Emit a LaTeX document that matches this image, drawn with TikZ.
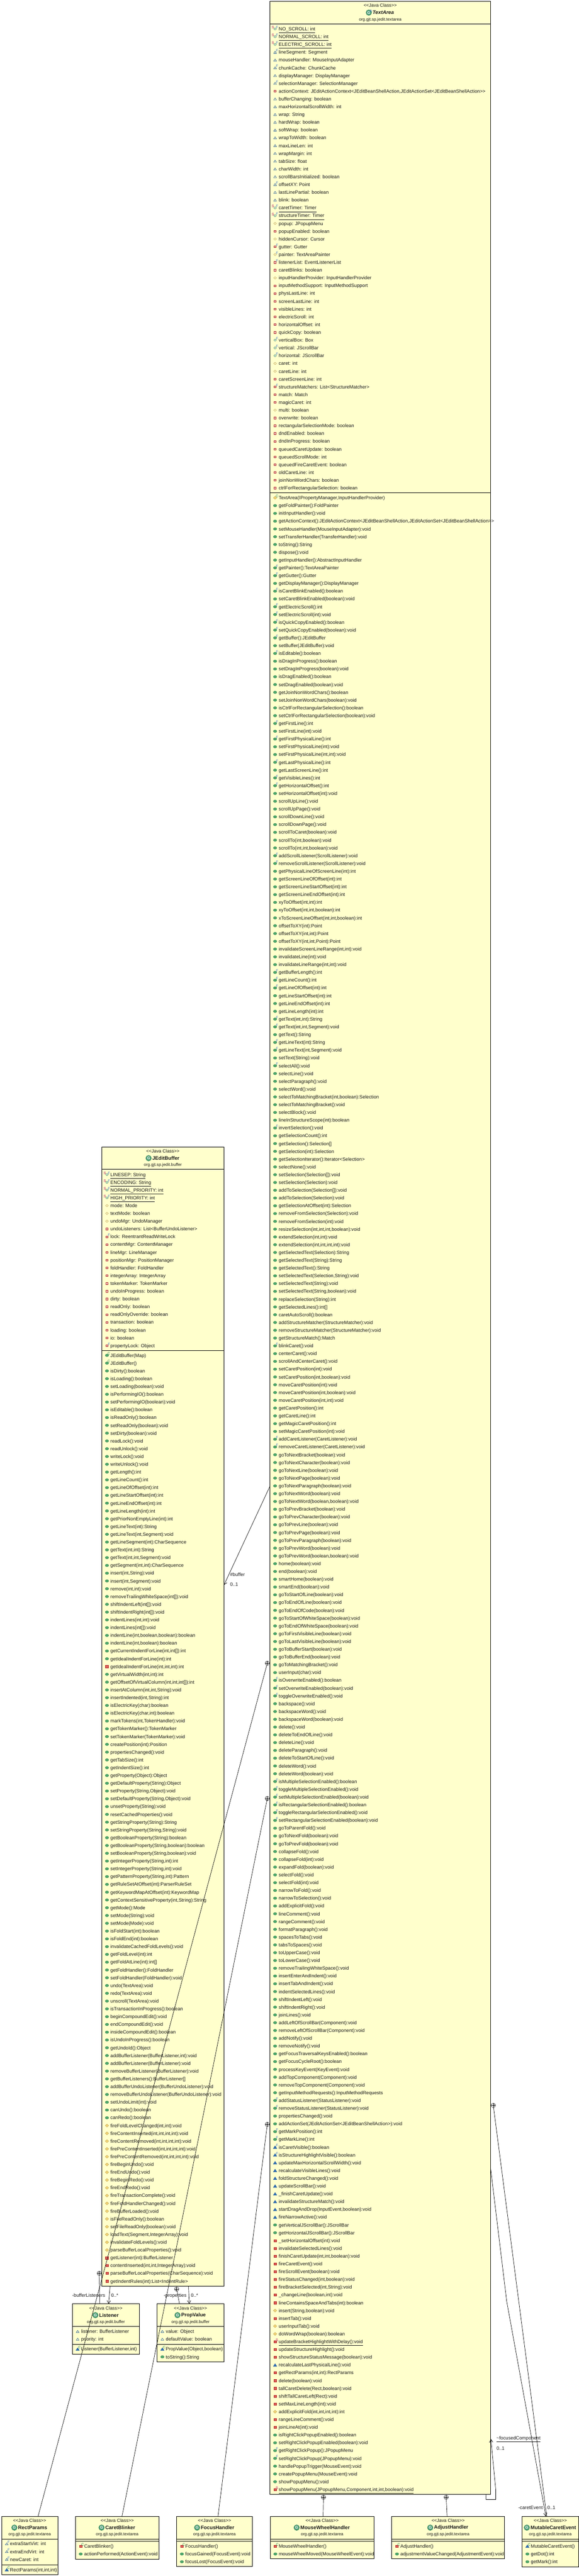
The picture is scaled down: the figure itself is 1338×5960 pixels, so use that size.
\documentclass[tikz,border=0pt]{standalone}
\usepackage{fontspec}
\setmainfont{Liberation Sans}
\usetikzlibrary{arrows.meta,calc}
\definecolor{boxfill}{HTML}{FFFFCC}
\definecolor{txt}{HTML}{1A1A1A}
\definecolor{gF}{HTML}{4FAA6C}
\definecolor{gD}{HTML}{2F7F50}
\definecolor{rF}{HTML}{E0605A}
\definecolor{rD}{HTML}{B02828}
\definecolor{bF}{HTML}{2F6FB5}
\definecolor{bD}{HTML}{1F5595}
\definecolor{yF}{HTML}{F2D676}
\definecolor{yD}{HTML}{BF9F4F}
\definecolor{cF}{HTML}{3A6FC8}
\definecolor{cC}{HTML}{1F7F4F}
\definecolor{cS}{HTML}{B0105A}
\definecolor{hF}{HTML}{4E9E78}
\newcommand\rowfont{\fontsize{11}{13}\selectfont}
\tikzset{
  x=1pt,y=-1pt,
  classbox/.style={draw=black,fill=boxfill,line width=1.1pt,inner sep=0pt,outer sep=0pt},
  divider/.style={draw=black,line width=.7pt},
  rowtext/.style={anchor=base west,inner sep=0pt,outer sep=0pt,font=\rowfont,text=txt},
  lbl/.style={anchor=base west,inner sep=0pt,outer sep=0pt,font=\rowfont,text=txt},
  stereo/.style={anchor=center,inner sep=0pt,font=\fontsize{10.6}{12}\selectfont,text=txt},
  pkgname/.style={anchor=center,inner sep=0pt,font=\fontsize{9.7}{11}\selectfont,text=txt},
  clsname/.style={anchor=center,inner sep=0pt,font=\fontsize{11.6}{14}\selectfont\bfseries,text=txt},
  hdicon/.style={circle,draw=gD,fill=hF,line width=.6pt,inner sep=0pt,minimum size=13pt,text=white,font=\fontsize{9}{9}\selectfont\bfseries},
  mk/.style={inner sep=0pt,outer sep=0pt,font=\fontsize{8}{8}\selectfont},
  conn/.style={draw=black,line width=.8pt},
  assoc/.style={draw=black,line width=.8pt,-{Straight Barb[length=7pt,width=8pt]}},
  nest/.style={circle,draw=black,fill=white,line width=.6pt,minimum size=10pt,inner sep=0pt,outer sep=0pt,
    path picture={\draw[line width=.5pt] (path picture bounding box.north)--(path picture bounding box.south)
      (path picture bounding box.west)--(path picture bounding box.east);}},
}
\newdimen\ry
\newcount\rn
% icon parts
\newcommand\mkFF{\node[mk,text=cF] (mf\the\rn) at (4.6,-3.6) {F};}
\newcommand\mkCC{\node[mk,text=cC] (mc\the\rn) at (4.4,-3.8) {C};}
\newcommand\mkSS{\node[mk,text=cS] (ms\the\rn) at (-5,-3.4) {S};}
\newcommand\shP{\path[draw=gD,fill=gF,line width=.5pt] (0,0) ellipse [x radius=4,y radius=3];}
\newcommand\shH{\path[draw=gD,fill=gF!20,line width=.6pt] (0,0) ellipse [x radius=2.7,y radius=2.3];}
\newcommand\shQ{\path[draw=rD,fill=rF,line width=.6pt] (-3,-2.5) rectangle (3,2.5);}
\newcommand\shQh{\path[draw=rD,fill=rF!30,line width=.7pt] (-2.6,-2) rectangle (2.6,2);}
\newcommand\shD{\path[draw=yD,fill=yF,line width=.5pt] (-4,0)--(0,-3.5)--(4,0)--(0,3.5)--cycle;}
\newcommand\shDh{\path[draw=yD,fill=boxfill,line width=.6pt] (-3.2,0)--(0,-2.7)--(3.2,0)--(0,2.7)--cycle;}
\newcommand\shK{\path[draw=bD,fill=bF,line width=.4pt] (-4.2,3.2)--(0,-3.2)--(4.2,3.2)--cycle;}
\newcommand\shKh{\path[draw=bD,fill=boxfill,line width=.7pt] (-3.2,2.4)--(0,-2.4)--(3.2,2.4)--cycle;}
% icon codes
\expandafter\def\csname icp\endcsname{\shP}
\expandafter\def\csname icpF\endcsname{\shP\mkFF}
\expandafter\def\csname icpC\endcsname{\shP\mkCC}
\expandafter\def\csname icq\endcsname{\shQ}
\expandafter\def\csname icqB\endcsname{\path[fill=rF,draw=rD,line width=.5pt] (-3.5,-3) rectangle (3.5,3);}
\expandafter\def\csname icqC\endcsname{\shQ\mkCC}
\expandafter\def\csname icqS\endcsname{\shQ\node[mk,text=cS] (ms\the\rn) at (4.2,-3.8) {S};}
\expandafter\def\csname icd\endcsname{\shD}
\expandafter\def\csname icdC\endcsname{\shD\mkCC}
\expandafter\def\csname ick\endcsname{\shK}
\expandafter\def\csname ickF\endcsname{\shK\mkFF}
\expandafter\def\csname ickC\endcsname{\shK\mkCC}
\expandafter\def\csname icfSF\endcsname{\shH\mkFF\mkSS}
\expandafter\def\csname icfk\endcsname{\shKh}
\expandafter\def\csname icfkF\endcsname{\shKh\mkFF}
\expandafter\def\csname icfd\endcsname{\shDh}
\expandafter\def\csname icfdF\endcsname{\shDh\mkFF}
\expandafter\def\csname icfq\endcsname{\shQh}
\expandafter\def\csname icfqF\endcsname{\shQh\mkFF}
\expandafter\def\csname icfpF\endcsname{\shH\mkFF}
\newcommand\setrows[3]{\def\ix{#1}\def\tx{#2}\global\ry=#3pt\relax}
\newcommand\rw[2]{%
  \global\advance\rn by 1
  \edef\cy{-\the\ry}\edef\by{-\the\dimexpr\ry+4pt\relax}%
  \begin{scope}[shift={(\ix pt,\cy)}]\csname ic#1\endcsname\end{scope}
  \node[rowtext] (r\the\rn) at (\tx pt,\by) {#2};
  \global\advance\ry by 18pt\relax}
\newcommand\Rp[1]{\rw{p}{#1}}
\newcommand\Rf[1]{\rw{pF}{#1}}
\newcommand\Rq[1]{\rw{q}{#1}}
\newcommand\Rd[1]{\rw{d}{#1}}
\newcommand\Rk[1]{\rw{k}{#1}}
\newcommand\ulx[1]{\setbox0\hbox{#1}\rlap{\rule[-5pt]{\wd0}{.6pt}}\box0}
% name left top right bottom
\newcommand\clsbox[5]{%
  \pgfmathsetmacro\bcx{(#2+#4)/2}\pgfmathsetmacro\bcy{(#3+#5)/2}%
  \pgfmathsetmacro\bw{#4-#2}\pgfmathsetmacro\bh{#5-#3}%
  \node[classbox,minimum width=\bw pt,minimum height=\bh pt] (#1) at (\bcx,\bcy) {};}
% name cx top classname package
\newcommand\clshead[5]{%
  \pgfmathsetmacro\ya{#2+9.5}\pgfmathsetmacro\yb{#2+26}\pgfmathsetmacro\yc{#2+42.3}\pgfmathsetmacro\xn{#1+7}%
  \node[stereo] (#3-st) at (#1,\ya) {<{}<Java Class>{}>};
  \node[clsname] (#3-nm) at (\xn,\yb) {#4};
  \node[hdicon] (#3-ic) at ($(#3-nm.west)+(-8.5,0)$) {G};
  \node[pkgname] (#3-pk) at (#1,\yc) {#5};}
\begin{document}
\begin{tikzpicture}
\useasboundingbox (0,0) rectangle (1338,5960);
\fill[white] (0,0) rectangle (1338,5960);

% ---------- TextArea
\clsbox{textarea}{624}{3.2}{1134}{5771.5}
\draw[divider] (624,55.5)--(1134,55.5);
\draw[divider] (624,1140.3)--(1134,1140.3);
\clshead{879}{3.2}{ta}{\itshape TextArea}{org.gjt.sp.jedit.textarea}
\node[mk,text=cF] (ta-ab) at ($(ta-ic.north east)+(0,1)$) {A};
\setrows{636}{644.5}{67}
\rw{fSF}{\ulx{NO\_SCROLL: int}}
\rw{fSF}{\ulx{NORMAL\_SCROLL: int}}
\rw{fSF}{\ulx{ELECTRIC\_SCROLL: int}}
\rw{fkF}{lineSegment: Segment}
\rw{fk}{mouseHandler: MouseInputAdapter}
\rw{fkF}{chunkCache: ChunkCache}
\rw{fk}{displayManager: DisplayManager}
\rw{fkF}{selectionManager: SelectionManager}
\rw{fq}{actionContext: JEditActionContext<JEditBeanShellAction,JEditActionSet<JEditBeanShellAction>{}>}
\rw{fk}{bufferChanging: boolean}
\rw{fk}{maxHorizontalScrollWidth: int}
\rw{fk}{wrap: String}
\rw{fk}{hardWrap: boolean}
\rw{fk}{softWrap: boolean}
\rw{fk}{wrapToWidth: boolean}
\rw{fk}{maxLineLen: int}
\rw{fk}{wrapMargin: int}
\rw{fk}{tabSize: float}
\rw{fk}{charWidth: int}
\rw{fk}{scrollBarsInitialized: boolean}
\rw{fkF}{offsetXY: Point}
\rw{fk}{lastLinePartial: boolean}
\rw{fk}{blink: boolean}
\rw{fSF}{\ulx{caretTimer: Timer}}
\rw{fSF}{\ulx{structureTimer: Timer}}
\rw{fd}{popup: JPopupMenu}
\rw{fq}{popupEnabled: boolean}
\rw{fd}{hiddenCursor: Cursor}
\rw{fqF}{gutter: Gutter}
\rw{fdF}{painter: TextAreaPainter}
\rw{fqF}{listenerList: EventListenerList}
\rw{fq}{caretBlinks: boolean}
\rw{fd}{inputHandlerProvider: InputHandlerProvider}
\rw{fq}{inputMethodSupport: InputMethodSupport}
\rw{fq}{physLastLine: int}
\rw{fq}{screenLastLine: int}
\rw{fq}{visibleLines: int}
\rw{fq}{electricScroll: int}
\rw{fq}{horizontalOffset: int}
\rw{fq}{quickCopy: boolean}
\rw{fpF}{verticalBox: Box}
\rw{fpF}{vertical: JScrollBar}
\rw{fpF}{horizontal: JScrollBar}
\rw{fd}{caret: int}
\rw{fd}{caretLine: int}
\rw{fq}{caretScreenLine: int}
\rw{fqF}{structureMatchers: List<StructureMatcher>}
\rw{fq}{match: Match}
\rw{fq}{magicCaret: int}
\rw{fd}{multi: boolean}
\rw{fq}{overwrite: boolean}
\rw{fq}{rectangularSelectionMode: boolean}
\rw{fq}{dndEnabled: boolean}
\rw{fq}{dndInProgress: boolean}
\rw{fq}{queuedCaretUpdate: boolean}
\rw{fq}{queuedScrollMode: int}
\rw{fq}{queuedFireCaretEvent: boolean}
\rw{fq}{oldCaretLine: int}
\rw{fq}{joinNonWordChars: boolean}
\rw{fq}{ctrlForRectangularSelection: boolean}
\setrows{636}{644.5}{1151.8}
\rw{dC}{TextArea(IPropertyManager,InputHandlerProvider)}
\Rp{getFoldPainter():FoldPainter}
\Rp{initInputHandler():void}
\Rp{getActionContext():JEditActionContext<JEditBeanShellAction,JEditActionSet<JEditBeanShellAction>{}>}
\Rp{setMouseHandler(MouseInputAdapter):void}
\Rp{setTransferHandler(TransferHandler):void}
\Rp{toString():String}
\Rp{dispose():void}
\Rp{getInputHandler():AbstractInputHandler}
\Rf{getPainter():TextAreaPainter}
\Rf{getGutter():Gutter}
\Rp{getDisplayManager():DisplayManager}
\Rf{isCaretBlinkEnabled():boolean}
\Rp{setCaretBlinkEnabled(boolean):void}
\Rf{getElectricScroll():int}
\Rf{setElectricScroll(int):void}
\Rf{isQuickCopyEnabled():boolean}
\Rf{setQuickCopyEnabled(boolean):void}
\Rf{getBuffer():JEditBuffer}
\Rp{setBuffer(JEditBuffer):void}
\Rf{isEditable():boolean}
\Rp{isDragInProgress():boolean}
\Rp{setDragInProgress(boolean):void}
\Rp{isDragEnabled():boolean}
\Rp{setDragEnabled(boolean):void}
\Rp{getJoinNonWordChars():boolean}
\Rp{setJoinNonWordChars(boolean):void}
\Rp{isCtrlForRectangularSelection():boolean}
\Rp{setCtrlForRectangularSelection(boolean):void}
\Rf{getFirstLine():int}
\Rp{setFirstLine(int):void}
\Rf{getFirstPhysicalLine():int}
\Rp{setFirstPhysicalLine(int):void}
\Rp{setFirstPhysicalLine(int,int):void}
\Rf{getLastPhysicalLine():int}
\Rp{getLastScreenLine():int}
\Rf{getVisibleLines():int}
\Rf{getHorizontalOffset():int}
\Rp{setHorizontalOffset(int):void}
\Rp{scrollUpLine():void}
\Rp{scrollUpPage():void}
\Rp{scrollDownLine():void}
\Rp{scrollDownPage():void}
\Rp{scrollToCaret(boolean):void}
\Rp{scrollTo(int,boolean):void}
\Rp{scrollTo(int,int,boolean):void}
\Rf{addScrollListener(ScrollListener):void}
\Rf{removeScrollListener(ScrollListener):void}
\Rp{getPhysicalLineOfScreenLine(int):int}
\Rp{getScreenLineOfOffset(int):int}
\Rp{getScreenLineStartOffset(int):int}
\Rp{getScreenLineEndOffset(int):int}
\Rp{xyToOffset(int,int):int}
\Rp{xyToOffset(int,int,boolean):int}
\Rp{xToScreenLineOffset(int,int,boolean):int}
\Rp{offsetToXY(int):Point}
\Rp{offsetToXY(int,int):Point}
\Rp{offsetToXY(int,int,Point):Point}
\Rp{invalidateScreenLineRange(int,int):void}
\Rp{invalidateLine(int):void}
\Rp{invalidateLineRange(int,int):void}
\Rf{getBufferLength():int}
\Rf{getLineCount():int}
\Rf{getLineOfOffset(int):int}
\Rp{getLineStartOffset(int):int}
\Rp{getLineEndOffset(int):int}
\Rp{getLineLength(int):int}
\Rf{getText(int,int):String}
\Rf{getText(int,int,Segment):void}
\Rp{getText():String}
\Rf{getLineText(int):String}
\Rf{getLineText(int,Segment):void}
\Rp{setText(String):void}
\Rf{selectAll():void}
\Rp{selectLine():void}
\Rp{selectParagraph():void}
\Rp{selectWord():void}
\Rp{selectToMatchingBracket(int,boolean):Selection}
\Rp{selectToMatchingBracket():void}
\Rp{selectBlock():void}
\Rp{lineInStructureScope(int):boolean}
\Rf{invertSelection():void}
\Rp{getSelectionCount():int}
\Rp{getSelection():Selection[]}
\Rp{getSelection(int):Selection}
\Rp{getSelectionIterator():Iterator<Selection>}
\Rp{selectNone():void}
\Rp{setSelection(Selection[]):void}
\Rp{setSelection(Selection):void}
\Rp{addToSelection(Selection[]):void}
\Rp{addToSelection(Selection):void}
\Rp{getSelectionAtOffset(int):Selection}
\Rp{removeFromSelection(Selection):void}
\Rp{removeFromSelection(int):void}
\Rp{resizeSelection(int,int,int,boolean):void}
\Rp{extendSelection(int,int):void}
\Rp{extendSelection(int,int,int,int):void}
\Rp{getSelectedText(Selection):String}
\Rp{getSelectedText(String):String}
\Rp{getSelectedText():String}
\Rp{setSelectedText(Selection,String):void}
\Rp{setSelectedText(String):void}
\Rp{setSelectedText(String,boolean):void}
\Rp{replaceSelection(String):int}
\Rp{getSelectedLines():int[]}
\Rp{caretAutoScroll():boolean}
\Rp{addStructureMatcher(StructureMatcher):void}
\Rp{removeStructureMatcher(StructureMatcher):void}
\Rp{getStructureMatch():Match}
\Rf{blinkCaret():void}
\Rp{centerCaret():void}
\Rp{scrollAndCenterCaret():void}
\Rp{setCaretPosition(int):void}
\Rp{setCaretPosition(int,boolean):void}
\Rp{moveCaretPosition(int):void}
\Rp{moveCaretPosition(int,boolean):void}
\Rp{moveCaretPosition(int,int):void}
\Rp{getCaretPosition():int}
\Rp{getCaretLine():int}
\Rp{getMagicCaretPosition():int}
\Rp{setMagicCaretPosition(int):void}
\Rf{addCaretListener(CaretListener):void}
\Rf{removeCaretListener(CaretListener):void}
\Rp{goToNextBracket(boolean):void}
\Rp{goToNextCharacter(boolean):void}
\Rp{goToNextLine(boolean):void}
\Rp{goToNextPage(boolean):void}
\Rp{goToNextParagraph(boolean):void}
\Rp{goToNextWord(boolean):void}
\Rp{goToNextWord(boolean,boolean):void}
\Rp{goToPrevBracket(boolean):void}
\Rp{goToPrevCharacter(boolean):void}
\Rp{goToPrevLine(boolean):void}
\Rp{goToPrevPage(boolean):void}
\Rp{goToPrevParagraph(boolean):void}
\Rp{goToPrevWord(boolean):void}
\Rp{goToPrevWord(boolean,boolean):void}
\Rp{home(boolean):void}
\Rp{end(boolean):void}
\Rp{smartHome(boolean):void}
\Rp{smartEnd(boolean):void}
\Rp{goToStartOfLine(boolean):void}
\Rp{goToEndOfLine(boolean):void}
\Rp{goToEndOfCode(boolean):void}
\Rp{goToStartOfWhiteSpace(boolean):void}
\Rp{goToEndOfWhiteSpace(boolean):void}
\Rp{goToFirstVisibleLine(boolean):void}
\Rp{goToLastVisibleLine(boolean):void}
\Rp{goToBufferStart(boolean):void}
\Rp{goToBufferEnd(boolean):void}
\Rp{goToMatchingBracket():void}
\Rp{userInput(char):void}
\Rf{isOverwriteEnabled():boolean}
\Rf{setOverwriteEnabled(boolean):void}
\Rf{toggleOverwriteEnabled():void}
\Rp{backspace():void}
\Rp{backspaceWord():void}
\Rp{backspaceWord(boolean):void}
\Rp{delete():void}
\Rp{deleteToEndOfLine():void}
\Rp{deleteLine():void}
\Rp{deleteParagraph():void}
\Rp{deleteToStartOfLine():void}
\Rp{deleteWord():void}
\Rp{deleteWord(boolean):void}
\Rf{isMultipleSelectionEnabled():boolean}
\Rf{toggleMultipleSelectionEnabled():void}
\Rf{setMultipleSelectionEnabled(boolean):void}
\Rf{isRectangularSelectionEnabled():boolean}
\Rf{toggleRectangularSelectionEnabled():void}
\Rf{setRectangularSelectionEnabled(boolean):void}
\Rp{goToParentFold():void}
\Rp{goToNextFold(boolean):void}
\Rp{goToPrevFold(boolean):void}
\Rp{collapseFold():void}
\Rp{collapseFold(int):void}
\Rp{expandFold(boolean):void}
\Rp{selectFold():void}
\Rp{selectFold(int):void}
\Rp{narrowToFold():void}
\Rp{narrowToSelection():void}
\Rp{addExplicitFold():void}
\Rp{lineComment():void}
\Rp{rangeComment():void}
\Rp{formatParagraph():void}
\Rp{spacesToTabs():void}
\Rp{tabsToSpaces():void}
\Rp{toUpperCase():void}
\Rp{toLowerCase():void}
\Rp{removeTrailingWhiteSpace():void}
\Rp{insertEnterAndIndent():void}
\Rp{insertTabAndIndent():void}
\Rp{indentSelectedLines():void}
\Rp{shiftIndentLeft():void}
\Rp{shiftIndentRight():void}
\Rp{joinLines():void}
\Rp{addLeftOfScrollBar(Component):void}
\Rp{removeLeftOfScrollBar(Component):void}
\Rp{addNotify():void}
\Rp{removeNotify():void}
\Rp{getFocusTraversalKeysEnabled():boolean}
\Rp{getFocusCycleRoot():boolean}
\Rp{processKeyEvent(KeyEvent):void}
\Rp{addTopComponent(Component):void}
\Rp{removeTopComponent(Component):void}
\Rp{getInputMethodRequests():InputMethodRequests}
\Rf{addStatusListener(StatusListener):void}
\Rf{removeStatusListener(StatusListener):void}
\Rp{propertiesChanged():void}
\Rp{addActionSet(JEditActionSet<JEditBeanShellAction>):void}
\Rf{getMarkPosition():int}
\Rf{getMarkLine():int}
\rw{kF}{isCaretVisible():boolean}
\rw{kF}{isStructureHighlightVisible():boolean}
\Rk{updateMaxHorizontalScrollWidth():void}
\Rk{recalculateVisibleLines():void}
\Rk{foldStructureChanged():void}
\Rk{updateScrollBar():void}
\Rk{\_finishCaretUpdate():void}
\Rk{invalidateStructureMatch():void}
\Rk{startDragAndDrop(InputEvent,boolean):void}
\Rk{fireNarrowActive():void}
\Rp{getVerticalJScrollBar():JScrollBar}
\Rp{getHorizontalJScrollBar():JScrollBar}
\Rq{\_setHorizontalOffset(int):void}
\Rq{invalidateSelectedLines():void}
\Rq{finishCaretUpdate(int,int,boolean):void}
\Rq{fireCaretEvent():void}
\Rq{fireScrollEvent(boolean):void}
\Rq{fireStatusChanged(int,boolean):void}
\Rq{fireBracketSelected(int,String):void}
\Rq{\_changeLine(boolean,int):void}
\Rq{lineContainsSpaceAndTabs(int):boolean}
\Rd{insert(String,boolean):void}
\Rq{insertTab():void}
\Rd{userInputTab():void}
\Rd{doWordWrap(boolean):boolean}
\rw{qS}{\ulx{updateBracketHighlightWithDelay():void}}
\Rq{updateStructureHighlight():void}
\Rq{showStructureStatusMessage(boolean):void}
\Rk{recalculateLastPhysicalLine():void}
\Rq{getRectParams(int,int):RectParams}
\Rq{delete(boolean):void}
\Rq{tallCaretDelete(Rect,boolean):void}
\Rq{shiftTallCaretLeft(Rect):void}
\Rq{setMaxLineLength(int):void}
\Rd{addExplicitFold(int,int,int,int):int}
\Rq{rangeLineComment():void}
\Rq{joinLineAt(int):void}
\Rp{isRightClickPopupEnabled():boolean}
\Rp{setRightClickPopupEnabled(boolean):void}
\Rf{getRightClickPopup():JPopupMenu}
\Rf{setRightClickPopup(JPopupMenu):void}
\Rp{handlePopupTrigger(MouseEvent):void}
\Rp{createPopupMenu(MouseEvent):void}
\Rp{showPopupMenu():void}
\rw{qS}{\ulx{showPopupMenu(JPopupMenu,Component,int,int,boolean):void}}

% ---------- JEditBuffer
\clsbox{buffer}{235.3}{2653.6}{517.7}{5289}
\draw[divider] (235.3,2705)--(517.7,2705);
\draw[divider] (235.3,3124.3)--(517.7,3124.3);
\clshead{376.5}{2653.6}{jb}{JEditBuffer}{org.gjt.sp.jedit.buffer}
\setrows{247.3}{255.3}{2717.4}
\rw{fSF}{\ulx{LINESEP: String}}
\rw{fSF}{\ulx{ENCODING: String}}
\rw{fSF}{\ulx{NORMAL\_PRIORITY: int}}
\rw{fSF}{\ulx{HIGH\_PRIORITY: int}}
\rw{fd}{mode: Mode}
\rw{fd}{textMode: boolean}
\rw{fd}{undoMgr: UndoManager}
\rw{fq}{undoListeners: List<BufferUndoListener>}
\rw{fqF}{lock: ReentrantReadWriteLock}
\rw{fq}{contentMgr: ContentManager}
\rw{fq}{lineMgr: LineManager}
\rw{fq}{positionMgr: PositionManager}
\rw{fq}{foldHandler: FoldHandler}
\rw{fq}{integerArray: IntegerArray}
\rw{fq}{tokenMarker: TokenMarker}
\rw{fq}{undoInProgress: boolean}
\rw{fq}{dirty: boolean}
\rw{fq}{readOnly: boolean}
\rw{fq}{readOnlyOverride: boolean}
\rw{fq}{transaction: boolean}
\rw{fq}{loading: boolean}
\rw{fq}{io: boolean}
\rw{fqF}{propertyLock: Object}
\setrows{247.3}{255.3}{3135.8}
\rw{pC}{JEditBuffer(Map)}
\rw{pC}{JEditBuffer()}
\Rp{isDirty():boolean}
\Rp{isLoading():boolean}
\Rp{setLoading(boolean):void}
\Rp{isPerformingIO():boolean}
\Rp{setPerformingIO(boolean):void}
\Rp{isEditable():boolean}
\Rp{isReadOnly():boolean}
\Rp{setReadOnly(boolean):void}
\Rp{setDirty(boolean):void}
\Rp{readLock():void}
\Rp{readUnlock():void}
\Rp{writeLock():void}
\Rp{writeUnlock():void}
\Rp{getLength():int}
\Rp{getLineCount():int}
\Rp{getLineOfOffset(int):int}
\Rp{getLineStartOffset(int):int}
\Rp{getLineEndOffset(int):int}
\Rp{getLineLength(int):int}
\Rp{getPriorNonEmptyLine(int):int}
\Rp{getLineText(int):String}
\Rp{getLineText(int,Segment):void}
\Rp{getLineSegment(int):CharSequence}
\Rp{getText(int,int):String}
\Rp{getText(int,int,Segment):void}
\Rp{getSegment(int,int):CharSequence}
\Rp{insert(int,String):void}
\Rp{insert(int,Segment):void}
\Rp{remove(int,int):void}
\Rp{removeTrailingWhiteSpace(int[]):void}
\Rp{shiftIndentLeft(int[]):void}
\Rp{shiftIndentRight(int[]):void}
\Rp{indentLines(int,int):void}
\Rp{indentLines(int[]):void}
\Rp{indentLine(int,boolean,boolean):boolean}
\Rp{indentLine(int,boolean):boolean}
\Rp{getCurrentIndentForLine(int,int[]):int}
\Rp{getIdealIndentForLine(int):int}
\rw{qB}{getIdealIndentForLine(int,int,int):int}
\Rp{getVirtualWidth(int,int):int}
\Rp{getOffsetOfVirtualColumn(int,int,int[]):int}
\Rp{insertAtColumn(int,int,String):void}
\Rp{insertIndented(int,String):int}
\Rp{isElectricKey(char):boolean}
\Rp{isElectricKey(char,int):boolean}
\Rp{markTokens(int,TokenHandler):void}
\Rp{getTokenMarker():TokenMarker}
\Rp{setTokenMarker(TokenMarker):void}
\Rp{createPosition(int):Position}
\Rp{propertiesChanged():void}
\Rp{getTabSize():int}
\Rp{getIndentSize():int}
\Rp{getProperty(Object):Object}
\Rp{getDefaultProperty(String):Object}
\Rp{setProperty(String,Object):void}
\Rp{setDefaultProperty(String,Object):void}
\Rp{unsetProperty(String):void}
\Rp{resetCachedProperties():void}
\Rp{getStringProperty(String):String}
\Rp{setStringProperty(String,String):void}
\Rp{getBooleanProperty(String):boolean}
\Rp{getBooleanProperty(String,boolean):boolean}
\Rp{setBooleanProperty(String,boolean):void}
\Rp{getIntegerProperty(String,int):int}
\Rp{setIntegerProperty(String,int):void}
\Rp{getPatternProperty(String,int):Pattern}
\Rp{getRuleSetAtOffset(int):ParserRuleSet}
\Rp{getKeywordMapAtOffset(int):KeywordMap}
\Rp{getContextSensitiveProperty(int,String):String}
\Rp{getMode():Mode}
\Rp{setMode(String):void}
\Rp{setMode(Mode):void}
\Rp{isFoldStart(int):boolean}
\Rp{isFoldEnd(int):boolean}
\Rp{invalidateCachedFoldLevels():void}
\Rp{getFoldLevel(int):int}
\Rp{getFoldAtLine(int):int[]}
\Rp{getFoldHandler():FoldHandler}
\Rp{setFoldHandler(FoldHandler):void}
\Rp{undo(TextArea):void}
\Rp{redo(TextArea):void}
\Rp{unscroll(TextArea):void}
\Rp{isTransactionInProgress():boolean}
\Rp{beginCompoundEdit():void}
\Rp{endCompoundEdit():void}
\Rp{insideCompoundEdit():boolean}
\Rp{isUndoInProgress():boolean}
\Rp{getUndoId():Object}
\Rp{addBufferListener(BufferListener,int):void}
\Rp{addBufferListener(BufferListener):void}
\Rp{removeBufferListener(BufferListener):void}
\Rp{getBufferListeners():BufferListener[]}
\Rp{addBufferUndoListener(BufferUndoListener):void}
\Rp{removeBufferUndoListener(BufferUndoListener):void}
\Rp{setUndoLimit(int):void}
\Rp{canUndo():boolean}
\Rp{canRedo():boolean}
\Rd{fireFoldLevelChanged(int,int):void}
\Rd{fireContentInserted(int,int,int,int):void}
\Rd{fireContentRemoved(int,int,int,int):void}
\Rd{firePreContentInserted(int,int,int,int):void}
\Rd{firePreContentRemoved(int,int,int,int):void}
\Rd{fireBeginUndo():void}
\Rd{fireEndUndo():void}
\Rd{fireBeginRedo():void}
\Rd{fireEndRedo():void}
\Rd{fireTransactionComplete():void}
\Rd{fireFoldHandlerChanged():void}
\Rd{fireBufferLoaded():void}
\Rd{isFileReadOnly():boolean}
\Rd{setFileReadOnly(boolean):void}
\Rd{loadText(Segment,IntegerArray):void}
\Rd{invalidateFoldLevels():void}
\Rd{parseBufferLocalProperties():void}
\rw{qB}{getListener(int):BufferListener}
\Rq{contentInserted(int,int,IntegerArray):void}
\Rq{parseBufferLocalProperties(CharSequence):void}
\Rq{getIndentRules(int):List<IndentRule>}

% ---------- Listener
\clsbox{listener}{167.4}{5330.4}{322.3}{5446.7}
\draw[divider] (167.4,5382.5)--(322.3,5382.5);
\draw[divider] (167.4,5423.6)--(322.3,5423.6);
\clshead{244.8}{5330.4}{li}{Listener}{org.gjt.sp.jedit.buffer}
\setrows{179.5}{187.5}{5394}
\rw{fk}{listener: BufferListener}
\rw{fk}{priority: int}
\setrows{179.5}{187.5}{5435}
\rw{kC}{Listener(BufferListener,int)}

% ---------- PropValue
\clsbox{propvalue}{363.4}{5330.4}{517.4}{5464.2}
\draw[divider] (363.4,5382.5)--(517.4,5382.5);
\draw[divider] (363.4,5423.6)--(517.4,5423.6);
\clshead{440.4}{5330.4}{pv}{PropValue}{org.gjt.sp.jedit.buffer}
\setrows{375.4}{383.4}{5394}
\rw{fk}{value: Object}
\rw{fk}{defaultValue: boolean}
\setrows{375.4}{383.4}{5435}
\rw{kC}{PropValue(Object,boolean)}
\Rp{toString():String}

% ---------- RectParams
\clsbox{rectparams}{3.6}{5822}{133.5}{5956.8}
\draw[divider] (3.6,5874.6)--(133.5,5874.6);
\draw[divider] (3.6,5933.8)--(133.5,5933.8);
\clshead{68.5}{5822}{rp}{RectParams}{org.gjt.sp.jedit.textarea}
\setrows{15.6}{23.2}{5885.5}
\rw{fkF}{extraStartVirt: int}
\rw{fkF}{extraEndVirt: int}
\rw{fkF}{newCaret: int}
\setrows{15.6}{23.2}{5945.3}
\rw{kC}{RectParams(int,int,int)}

% ---------- CaretBlinker
\clsbox{caretblinker}{174.6}{5822}{367.4}{5920.6}
\draw[divider] (174.6,5874.6)--(367.4,5874.6);
\draw[divider] (174.6,5878.9)--(367.4,5878.9);
\clshead{271}{5822}{cb}{CaretBlinker}{org.gjt.sp.jedit.textarea}
\setrows{186.6}{194.6}{5891}
\rw{qC}{CaretBlinker()}
\Rp{actionPerformed(ActionEvent):void}

% ---------- FocusHandler
\clsbox{focushandler}{408.5}{5822}{583.5}{5938.2}
\draw[divider] (408.5,5874.6)--(583.5,5874.6);
\draw[divider] (408.5,5878.9)--(583.5,5878.9);
\clshead{496}{5822}{fh}{FocusHandler}{org.gjt.sp.jedit.textarea}
\setrows{420.5}{428.5}{5891}
\rw{qC}{FocusHandler()}
\Rp{focusGained(FocusEvent):void}
\Rp{focusLost(FocusEvent):void}

% ---------- MouseWheelHandler
\clsbox{mousewheel}{624.6}{5822}{864.6}{5920.4}
\draw[divider] (624.6,5874.6)--(864.6,5874.6);
\draw[divider] (624.6,5879.5)--(864.6,5879.5);
\clshead{744.6}{5822}{mw}{MouseWheelHandler}{org.gjt.sp.jedit.textarea}
\setrows{636.6}{644.6}{5891}
\rw{qC}{MouseWheelHandler()}
\Rp{mouseWheelMoved(MouseWheelEvent):void}

% ---------- AdjustHandler
\clsbox{adjusthandler}{905.8}{5822}{1166.2}{5920.4}
\draw[divider] (905.8,5874.6)--(1166.2,5874.6);
\draw[divider] (905.8,5879.5)--(1166.2,5879.5);
\clshead{1036}{5822}{ah}{AdjustHandler}{org.gjt.sp.jedit.textarea}
\setrows{917.8}{925.8}{5891}
\rw{qC}{AdjustHandler()}
\Rp{adjustmentValueChanged(AdjustmentEvent):void}

% ---------- MutableCaretEvent
\clsbox{mutable}{1207.3}{5822}{1337.4}{5938.8}
\draw[divider] (1207.3,5874.6)--(1337.4,5874.6);
\draw[divider] (1207.3,5879.5)--(1337.4,5879.5);
\clshead{1272.3}{5822}{mc}{MutableCaretEvent}{org.gjt.sp.jedit.textarea}
\setrows{1219.3}{1227.3}{5891}
\rw{kC}{MutableCaretEvent()}
\Rp{getDot():int}
\Rp{getMark():int}

% ---------- connectors
\node[nest] (nRect) at (618,3848) {};
\node[nest] (nCaret) at (618,4161) {};
\node[nest] (nFocus) at (618,4915) {};
\node[nest] (nListener) at (229.5,5259.6) {};
\node[nest] (nProp) at (408.5,5296) {};
\node[nest] (nWheel) at (747.8,5777.7) {};
\node[nest] (nAdjust) at (1031.5,5777.7) {};
\node[nest] (nMutable) at (1140.4,4871) {};
\coordinate (aRect) at (88,5822);
\coordinate (aCaret) at (282,5822);
\coordinate (aFocus) at (504,5822);
\coordinate (aListener) at (230.5,5330.4);
\coordinate (aProp) at (415,5330.4);
\coordinate (aWheel) at (747,5822);
\coordinate (aAdjust) at (1033.7,5822);
\coordinate (aMutable) at (1264,5822);
\draw[conn] (nRect)--(aRect);
\draw[conn] (nCaret)--(aCaret);
\draw[conn] (nFocus)--(aFocus);
\draw[conn] (nListener)--(aListener);
\draw[conn] (nProp)--(aProp);
\draw[conn] (nWheel)--(aWheel);
\draw[conn] (nAdjust)--(aAdjust);
\draw[conn] (nMutable)--(aMutable);
\coordinate (bufS) at (624,3438.7);
\coordinate (bufE) at (517.9,3667);
\draw[assoc] (bufS)--(bufE);
\node[lbl] (lBuffer) at (532,3647) {\#buffer};
\node[lbl] (mBuffer) at (532,3670) {0..1};
\coordinate (lsS) at (254.5,5289);
\coordinate (lsE) at (251,5330.4);
\draw[assoc] (lsS)--(lsE);
\node[lbl] (lListeners) at (167,5314) {-bufferListeners};
\node[lbl] (mListeners) at (257,5315) {0..*};
\coordinate (pvS) at (435.7,5289);
\coordinate (pvE) at (437.5,5330.4);
\draw[assoc] (pvS)--(pvE);
\node[lbl] (lProps) at (378.6,5314) {-properties};
\node[lbl] (mProps) at (441.5,5315) {0..*};
\coordinate (ceS) at (1134.4,5018);
\coordinate (ceM) at (1171.5,5324.6);
\coordinate (ceE) at (1262,5822);
\draw[assoc] (ceS)--(ceM)--(ceE);
\node[lbl] (lCaretEv) at (1198.4,5806) {-caretEvent};
\node[lbl] (mCaretEv) at (1265.5,5806) {0..1};
\coordinate (fcA) at (1123.7,5771.5);
\coordinate (fcB) at (1123.7,5783);
\coordinate (fcC) at (1146,5783);
\coordinate (fcD) at (1146,5759);
\coordinate (fcE) at (1134.9,5643);
\draw[assoc] (fcA)--(fcB)--(fcC)--(fcD)--(fcE);
\node[lbl] (lFocus) at (1147.8,5645) {\ulx{\textasciitilde focusedComponent}};
\node[lbl] (mFocus) at (1148,5668) {0..1};
\end{tikzpicture}
\end{document}
